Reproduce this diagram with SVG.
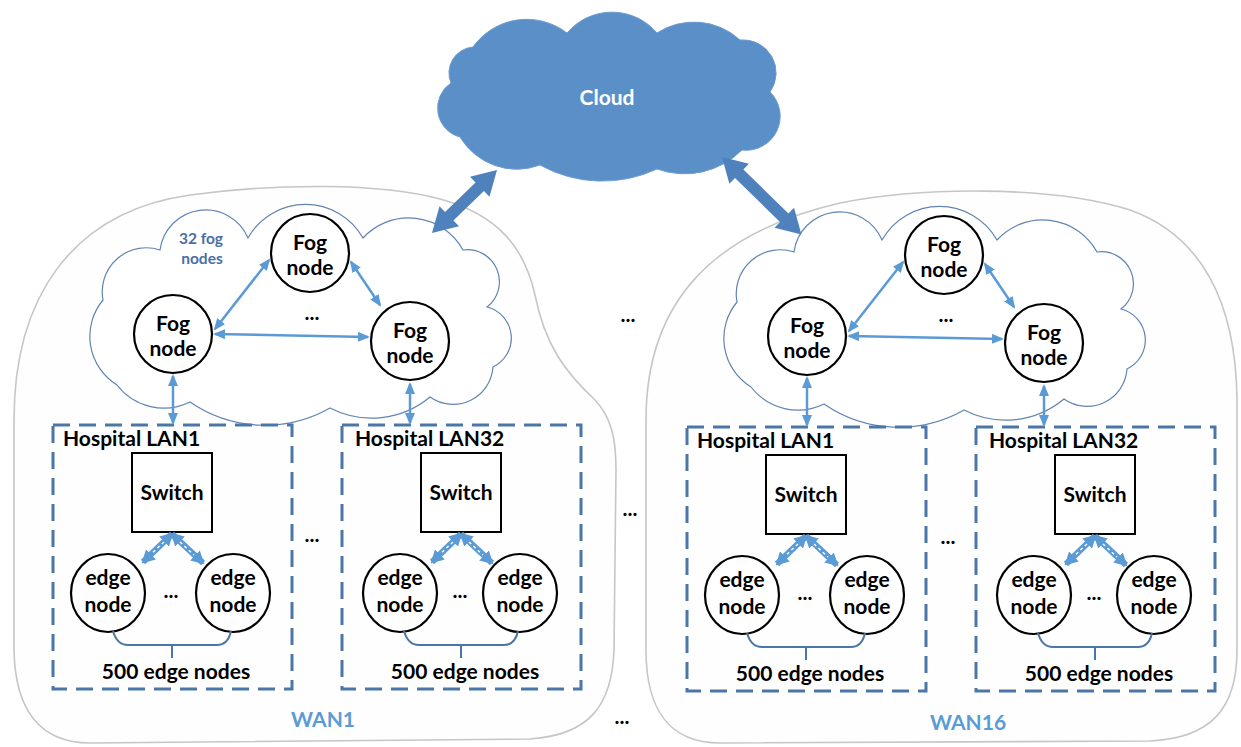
<svg xmlns="http://www.w3.org/2000/svg" width="1241" height="747" viewBox="0 0 1241 747">
<style>
.wan{fill:#fefefe;stroke:#c6c6c6;stroke-width:1.6}
.fogc{fill:#fff;stroke:#6284b2;stroke-width:1.2}
.node{fill:#fff;stroke:#000;stroke-width:2.2}
.lan{fill:none;stroke:#4a76a8;stroke-width:3;stroke-dasharray:17 9}
.t{font-family:Lato,'Open Sans',sans-serif;font-weight:700;font-size:21px;fill:#000;text-anchor:middle}
.tl{text-anchor:start}
.wl{fill:#5b9bd5}
.small{font-size:15.5px;fill:#4a6fa5}
.lnk{stroke:#5b9bd5;stroke-width:2.5;fill:none;marker-start:url(#ah);marker-end:url(#ah)}
.sw{stroke:#5b9bd5;stroke-width:6;fill:none;marker-start:url(#ah2);marker-end:url(#ah2)}
.swi{stroke:#fff;stroke-width:1.4;stroke-dasharray:3 3;fill:none}
.brk{fill:none;stroke:#4a76a8;stroke-width:2}
.big{fill:#4f81bd}
</style>
<defs>
<marker id="ah" viewBox="0 0 12 10" refX="10" refY="5" markerWidth="12" markerHeight="10" markerUnits="userSpaceOnUse" orient="auto-start-reverse"><path d="M0,0 L12,5 L0,10 z" fill="#5b9bd5"/></marker>
<marker id="ah2" viewBox="0 0 13 14" refX="11" refY="7" markerWidth="13" markerHeight="14" markerUnits="userSpaceOnUse" orient="auto-start-reverse"><path d="M0,0 L13,7 L0,14 z" fill="#5b9bd5"/></marker>
<path id="fogcloud" d="M117,385 A57 57 0 0 1 103,300 A44 44 0 0 1 160,250 A46 46 0 0 1 248,238 A66 66 0 0 1 363,238 A62 62 0 0 1 463,250 A32 32 0 0 1 487,307 A32 32 0 0 1 493,367 A40 40 0 0 1 430,397 A91 91 0 0 1 330,408 A132 132 0 0 1 190,402 A59 59 0 0 1 117,385 Z"/>
<g id="lanbox">
<rect class="lan" x="0" y="0" width="239" height="264"/>
</g>
</defs>

<!-- WAN regions -->
<g id="wan1">
<path class="wan" d="M14,650 L14,420 C14,300 70,212 190,195 C280,183 380,183 440,199 C500,215 525,250 535,295 C545,345 565,372 595,400 C612,418 616,440 616,470 L614,650 C612,705 590,735 530,739 L90,743 C40,743 15,710 14,650 Z"/>
<text class="t wl" x="323" y="727">WAN1</text>
</g>
<g id="wan16">
<path class="wan" d="M646,650 L646,420 C646,300 715,232 840,203 C920,187 1050,185 1130,210 C1200,235 1236,300 1237,400 L1237,650 C1237,710 1210,738 1150,741 L720,743 C670,743 646,710 646,650 Z"/>
<text class="t wl" x="968" y="730">WAN16</text>
</g>

<!-- Cloud -->
<g id="cloud">
<path d="M460,137 A30 30 0 0 1 451,83 A26 26 0 0 1 473,47 A66 66 0 0 1 567,33 A59 59 0 0 1 657,33 A68 68 0 0 1 740,40 A33 33 0 0 1 770,92 A34 34 0 0 1 742,150 A81 81 0 0 1 657,169 A129 129 0 0 1 540,165 A66 66 0 0 1 460,137 Z" fill="#5a8fc8" stroke="#6d9dd1" stroke-width="1"/>
<text class="t" x="607" y="105" style="fill:#fff">Cloud</text>
</g>

<!-- Fog clouds -->
<g id="fog-cloud-wan1"><use href="#fogcloud" class="fogc"/>
<text class="t small" x="201" y="244">32 fog</text>
<text class="t small" x="202" y="264">nodes</text>
</g>
<g id="fog-cloud-wan16" transform="translate(634,2)"><use href="#fogcloud" class="fogc"/></g>

<!-- Fog nodes WAN1 -->
<g id="fog1-left"><circle class="node" cx="173" cy="334" r="39"/><text class="t" x="173" y="331">Fog</text><text class="t" x="173" y="356">node</text></g>
<g id="fog1-top"><circle class="node" cx="310" cy="253" r="39"/><text class="t" x="310" y="250">Fog</text><text class="t" x="310" y="275">node</text></g>
<g id="fog1-right"><circle class="node" cx="410" cy="341" r="39"/><text class="t" x="410" y="338">Fog</text><text class="t" x="410" y="363">node</text></g>
<!-- Fog nodes WAN16 -->
<g id="fog16-left"><circle class="node" cx="807" cy="336" r="39"/><text class="t" x="807" y="333">Fog</text><text class="t" x="807" y="358">node</text></g>
<g id="fog16-top"><circle class="node" cx="944" cy="255" r="39"/><text class="t" x="944" y="252">Fog</text><text class="t" x="944" y="277">node</text></g>
<g id="fog16-right"><circle class="node" cx="1044" cy="343" r="39"/><text class="t" x="1044" y="340">Fog</text><text class="t" x="1044" y="365">node</text></g>

<!-- LANs -->
<g id="wan1-lan1" transform="translate(53,425)">
<use href="#lanbox"/>
<text class="t tl" x="10" y="21">Hospital LAN1</text>
<g id="wan1-lan1-switch"><rect x="79" y="28" width="80" height="79" fill="#fff" stroke="#000" stroke-width="2"/><text class="t" x="119" y="75">Switch</text></g>
<g id="wan1-lan1-edgeA"><ellipse class="node" cx="55" cy="168" rx="37" ry="39"/><text class="t" x="55" y="160">edge</text><text class="t" x="55" y="187">node</text></g>
<g id="wan1-lan1-edgeB"><ellipse class="node" cx="180" cy="168" rx="37" ry="39"/><text class="t" x="180" y="160">edge</text><text class="t" x="180" y="187">node</text></g>
<text class="t" x="118" y="173">...</text>
<path class="brk" d="M60,206 Q64,220 75,220 L164,220 Q175,220 178,206 M119,220 L119,233"/>
<text class="t" x="123" y="254">500 edge nodes</text>
</g>
<g id="wan1-lan32" transform="translate(342,425)">
<use href="#lanbox"/>
<text class="t tl" x="13" y="21">Hospital LAN32</text>
<g id="wan1-lan32-switch"><rect x="79" y="28" width="80" height="79" fill="#fff" stroke="#000" stroke-width="2"/><text class="t" x="119" y="75">Switch</text></g>
<g id="wan1-lan32-edgeA"><ellipse class="node" cx="58" cy="168" rx="37" ry="39"/><text class="t" x="58" y="160">edge</text><text class="t" x="58" y="187">node</text></g>
<g id="wan1-lan32-edgeB"><ellipse class="node" cx="178" cy="168" rx="37" ry="39"/><text class="t" x="178" y="160">edge</text><text class="t" x="178" y="187">node</text></g>
<text class="t" x="118" y="173">...</text>
<path class="brk" d="M62,206 Q66,220 77,220 L162,220 Q173,220 176,206 M119,220 L119,233"/>
<text class="t" x="123" y="254">500 edge nodes</text>
</g>
<g id="wan16-lan1" transform="translate(687,427)">
<use href="#lanbox"/>
<text class="t tl" x="10" y="21">Hospital LAN1</text>
<g id="wan16-lan1-switch"><rect x="79" y="28" width="80" height="79" fill="#fff" stroke="#000" stroke-width="2"/><text class="t" x="119" y="75">Switch</text></g>
<g id="wan16-lan1-edgeA"><ellipse class="node" cx="55" cy="168" rx="37" ry="39"/><text class="t" x="55" y="160">edge</text><text class="t" x="55" y="187">node</text></g>
<g id="wan16-lan1-edgeB"><ellipse class="node" cx="180" cy="168" rx="37" ry="39"/><text class="t" x="180" y="160">edge</text><text class="t" x="180" y="187">node</text></g>
<text class="t" x="118" y="173">...</text>
<path class="brk" d="M60,206 Q64,220 75,220 L164,220 Q175,220 178,206 M119,220 L119,233"/>
<text class="t" x="123" y="254">500 edge nodes</text>
</g>
<g id="wan16-lan32" transform="translate(976,427)">
<use href="#lanbox"/>
<text class="t tl" x="13" y="21">Hospital LAN32</text>
<g id="wan16-lan32-switch"><rect x="79" y="28" width="80" height="79" fill="#fff" stroke="#000" stroke-width="2"/><text class="t" x="119" y="75">Switch</text></g>
<g id="wan16-lan32-edgeA"><ellipse class="node" cx="58" cy="168" rx="37" ry="39"/><text class="t" x="58" y="160">edge</text><text class="t" x="58" y="187">node</text></g>
<g id="wan16-lan32-edgeB"><ellipse class="node" cx="178" cy="168" rx="37" ry="39"/><text class="t" x="178" y="160">edge</text><text class="t" x="178" y="187">node</text></g>
<text class="t" x="118" y="173">...</text>
<path class="brk" d="M62,206 Q66,220 77,220 L162,220 Q173,220 176,206 M119,220 L119,233"/>
<text class="t" x="123" y="254">500 edge nodes</text>
</g>

<!-- ellipsis labels -->
<g id="ellipses">
<text class="t" x="312" y="320">...</text>
<text class="t" x="946" y="322">...</text>
<text class="t" x="312" y="542">...</text>
<text class="t" x="948" y="544">...</text>
<text class="t" x="628" y="322">...</text>
<text class="t" x="630" y="516">...</text>
<text class="t" x="622" y="724">...</text>
</g>

<!-- Connectors -->
<g id="connectors">
<polygon class="big" transform="translate(432,233) rotate(-44.1)" points="0,0 24,-14 24,-6 66.5,-6 66.5,-14 90.5,0 66.5,14 66.5,6 24,6 24,14"/>
<polygon class="big" transform="translate(722,157) rotate(44.3)" points="0,0 24,-14 24,-6 87,-6 87,-14 111,0 87,14 87,6 24,6 24,14"/>
<line class="lnk" x1="215" y1="329" x2="269" y2="260"/>
<line class="lnk" x1="351" y1="262" x2="380" y2="305"/>
<line class="lnk" x1="215" y1="334" x2="368" y2="337"/>
<line class="lnk" x1="173" y1="376" x2="173" y2="423"/>
<line class="lnk" x1="410" y1="384" x2="410" y2="423"/>
<line class="lnk" x1="849" y1="331" x2="903" y2="262"/>
<line class="lnk" x1="985" y1="264" x2="1014" y2="307"/>
<line class="lnk" x1="849" y1="336" x2="1002" y2="339"/>
<line class="lnk" x1="807" y1="378" x2="807" y2="425"/>
<line class="lnk" x1="1044" y1="386" x2="1044" y2="425"/>
<line class="sw" x1="172" y1="534" x2="143" y2="562"/>
<line class="sw" x1="172" y1="534" x2="203" y2="563"/>
<line class="sw" x1="461" y1="534" x2="432" y2="562"/>
<line class="sw" x1="461" y1="534" x2="492" y2="563"/>
<line class="sw" x1="806" y1="536" x2="777" y2="564"/>
<line class="sw" x1="806" y1="536" x2="837" y2="565"/>
<line class="sw" x1="1095" y1="536" x2="1066" y2="564"/>
<line class="sw" x1="1095" y1="536" x2="1126" y2="565"/>
<line class="swi" x1="164" y1="542" x2="151" y2="554"/>
<line class="swi" x1="180" y1="542" x2="194" y2="555"/>
<line class="swi" x1="453" y1="542" x2="440" y2="554"/>
<line class="swi" x1="469" y1="542" x2="483" y2="555"/>
<line class="swi" x1="798" y1="544" x2="785" y2="556"/>
<line class="swi" x1="814" y1="544" x2="828" y2="557"/>
<line class="swi" x1="1087" y1="544" x2="1074" y2="556"/>
<line class="swi" x1="1103" y1="544" x2="1117" y2="557"/>
</g>
</svg>
